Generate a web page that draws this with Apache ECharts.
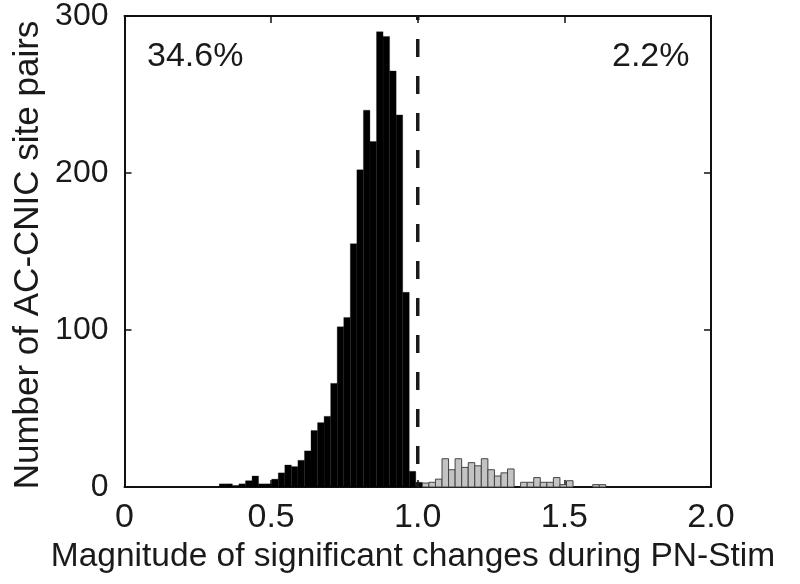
<!DOCTYPE html>
<html>
<head>
<meta charset="utf-8">
<script src="https://cdn.jsdelivr.net/npm/echarts@6/dist/echarts.min.js"></script>
<style>
html,body{margin:0;padding:0;background:#fff;}
#chart{width:800px;height:584px;}
</style>
</head>
<body>
<div id="chart"></div>
<script>
// Histogram bins (left edge of first bin and bin width, in x units)
var binStart = 0.3232;
var binWidth = 0.02234;
// Counts for bins below the threshold (black) – consecutive bins from binStart
var blackCounts = [2, 2, 1, 2, 4, 7, 2, 2, 5, 9, 14, 13, 17, 23, 36, 41, 45, 66, 102, 108, 155, 202, 240, 220, 290, 287, 265, 237, 124, 10, 3];
// Counts for bins above the threshold (gray) – consecutive bins following the black ones
var grayCounts = [2.5, 3, 5, 18, 11, 18, 12.5, 15.5, 13.5, 18, 11, 7, 9, 11.5, 0, 3, 3, 6, 3, 3, 6, 1.5, 4, 0, 0, 0, 1.5, 1.5];
var xTicks = [0, 0.5, 1.0, 1.5, 2.0];
var yTicks = [0, 100, 200, 300];
var threshold = 1.0;
var leftPct = "34.6%";
var rightPct = "2.2%";
var xTitle = "Magnitude of significant changes during PN-Stim";
var yTitle = "Number of AC-CNIC site pairs";

var FONT = "'Liberation Sans', Arial, sans-serif";

function binData(counts, offset) {
  var out = [];
  for (var i = 0; i < counts.length; i++) {
    var x0 = binStart + (offset + i) * binWidth;
    out.push([x0, x0 + binWidth, counts[i]]);
  }
  return out;
}
var blackData = binData(blackCounts, 0);
var grayData = binData(grayCounts, blackCounts.length);

function makeRender(fill, stroke, lw) {
  return function (params, api) {
    if (api.value(2) <= 0) return null;
    var p0 = api.coord([api.value(0), api.value(2)]);
    var p1 = api.coord([api.value(1), 0]);
    return {
      type: 'rect',
      shape: { x: p0[0], y: p0[1], width: p1[0] - p0[0], height: p1[1] - p0[1] },
      style: { fill: fill, stroke: stroke, lineWidth: lw }
    };
  };
}

var chart = echarts.init(document.getElementById('chart'), null, { renderer: 'canvas' });
function axisBase() {
  return {
    type: 'value',
    splitLine: { show: false },
    axisLine: { show: true, onZero: false, lineStyle: { color: '#111', width: 2 } },
    axisTick: { show: true, inside: true, length: 7, lineStyle: { color: '#111', width: 1.5 } }
  };
}
chart.setOption({
  animation: false,
  backgroundColor: '#fff',
  grid: { left: 124.5, right: 89, top: 15, bottom: 97, show: false },
  xAxis: [
    Object.assign(axisBase(), {
      position: 'bottom', min: xTicks[0], max: xTicks[xTicks.length - 1], interval: 0.5,
      axisLabel: {
        show: true, margin: 14, color: '#1a1a1a', fontSize: 34, fontFamily: FONT,
        formatter: function (v) { return v === 0 ? '0' : v.toFixed(1); }
      }
    }),
    Object.assign(axisBase(), {
      position: 'top', min: xTicks[0], max: xTicks[xTicks.length - 1], interval: 0.5,
      axisLabel: { show: false }
    })
  ],
  yAxis: [
    Object.assign(axisBase(), {
      position: 'left', min: yTicks[0], max: yTicks[yTicks.length - 1], interval: 100,
      axisLabel: { show: true, margin: 16, color: '#1a1a1a', fontSize: 32, fontFamily: FONT }
    }),
    Object.assign(axisBase(), {
      position: 'right', min: yTicks[0], max: yTicks[yTicks.length - 1], interval: 100,
      axisLabel: { show: false }
    })
  ],
  series: [
    {
      type: 'custom', name: 'below', xAxisIndex: 0, yAxisIndex: 0,
      renderItem: makeRender('#000', '#111', 0.3),
      data: blackData, z: 2
    },
    {
      type: 'custom', name: 'above', xAxisIndex: 0, yAxisIndex: 0,
      renderItem: makeRender('#c3c3c3', '#444', 1),
      data: grayData, z: 2
    },
    {
      type: 'line', xAxisIndex: 0, yAxisIndex: 0, symbol: 'none', z: 3,
      data: [[threshold, yTicks[yTicks.length - 1]], [threshold, 0]],
      lineStyle: { color: '#1a1a1a', width: 3.5, type: [18, 19], dashOffset: 14 }
    }
  ],
  graphic: [
    { type: 'text', left: 147, top: 40, style: { text: leftPct, font: '34px ' + FONT, fill: '#1a1a1a' } },
    { type: 'text', left: 612, top: 40, style: { text: rightPct, font: '34px ' + FONT, fill: '#1a1a1a' } },
    { type: 'text', x: 413, y: 557, style: { text: xTitle, font: '33.5px ' + FONT, fill: '#1a1a1a', align: 'center', verticalAlign: 'middle' } },
    { type: 'text', x: 28, y: 255, rotation: Math.PI / 2, style: { text: yTitle, font: '35px ' + FONT, fill: '#1a1a1a', align: 'center', verticalAlign: 'middle' } }
  ]
});
</script>
</body>
</html>
